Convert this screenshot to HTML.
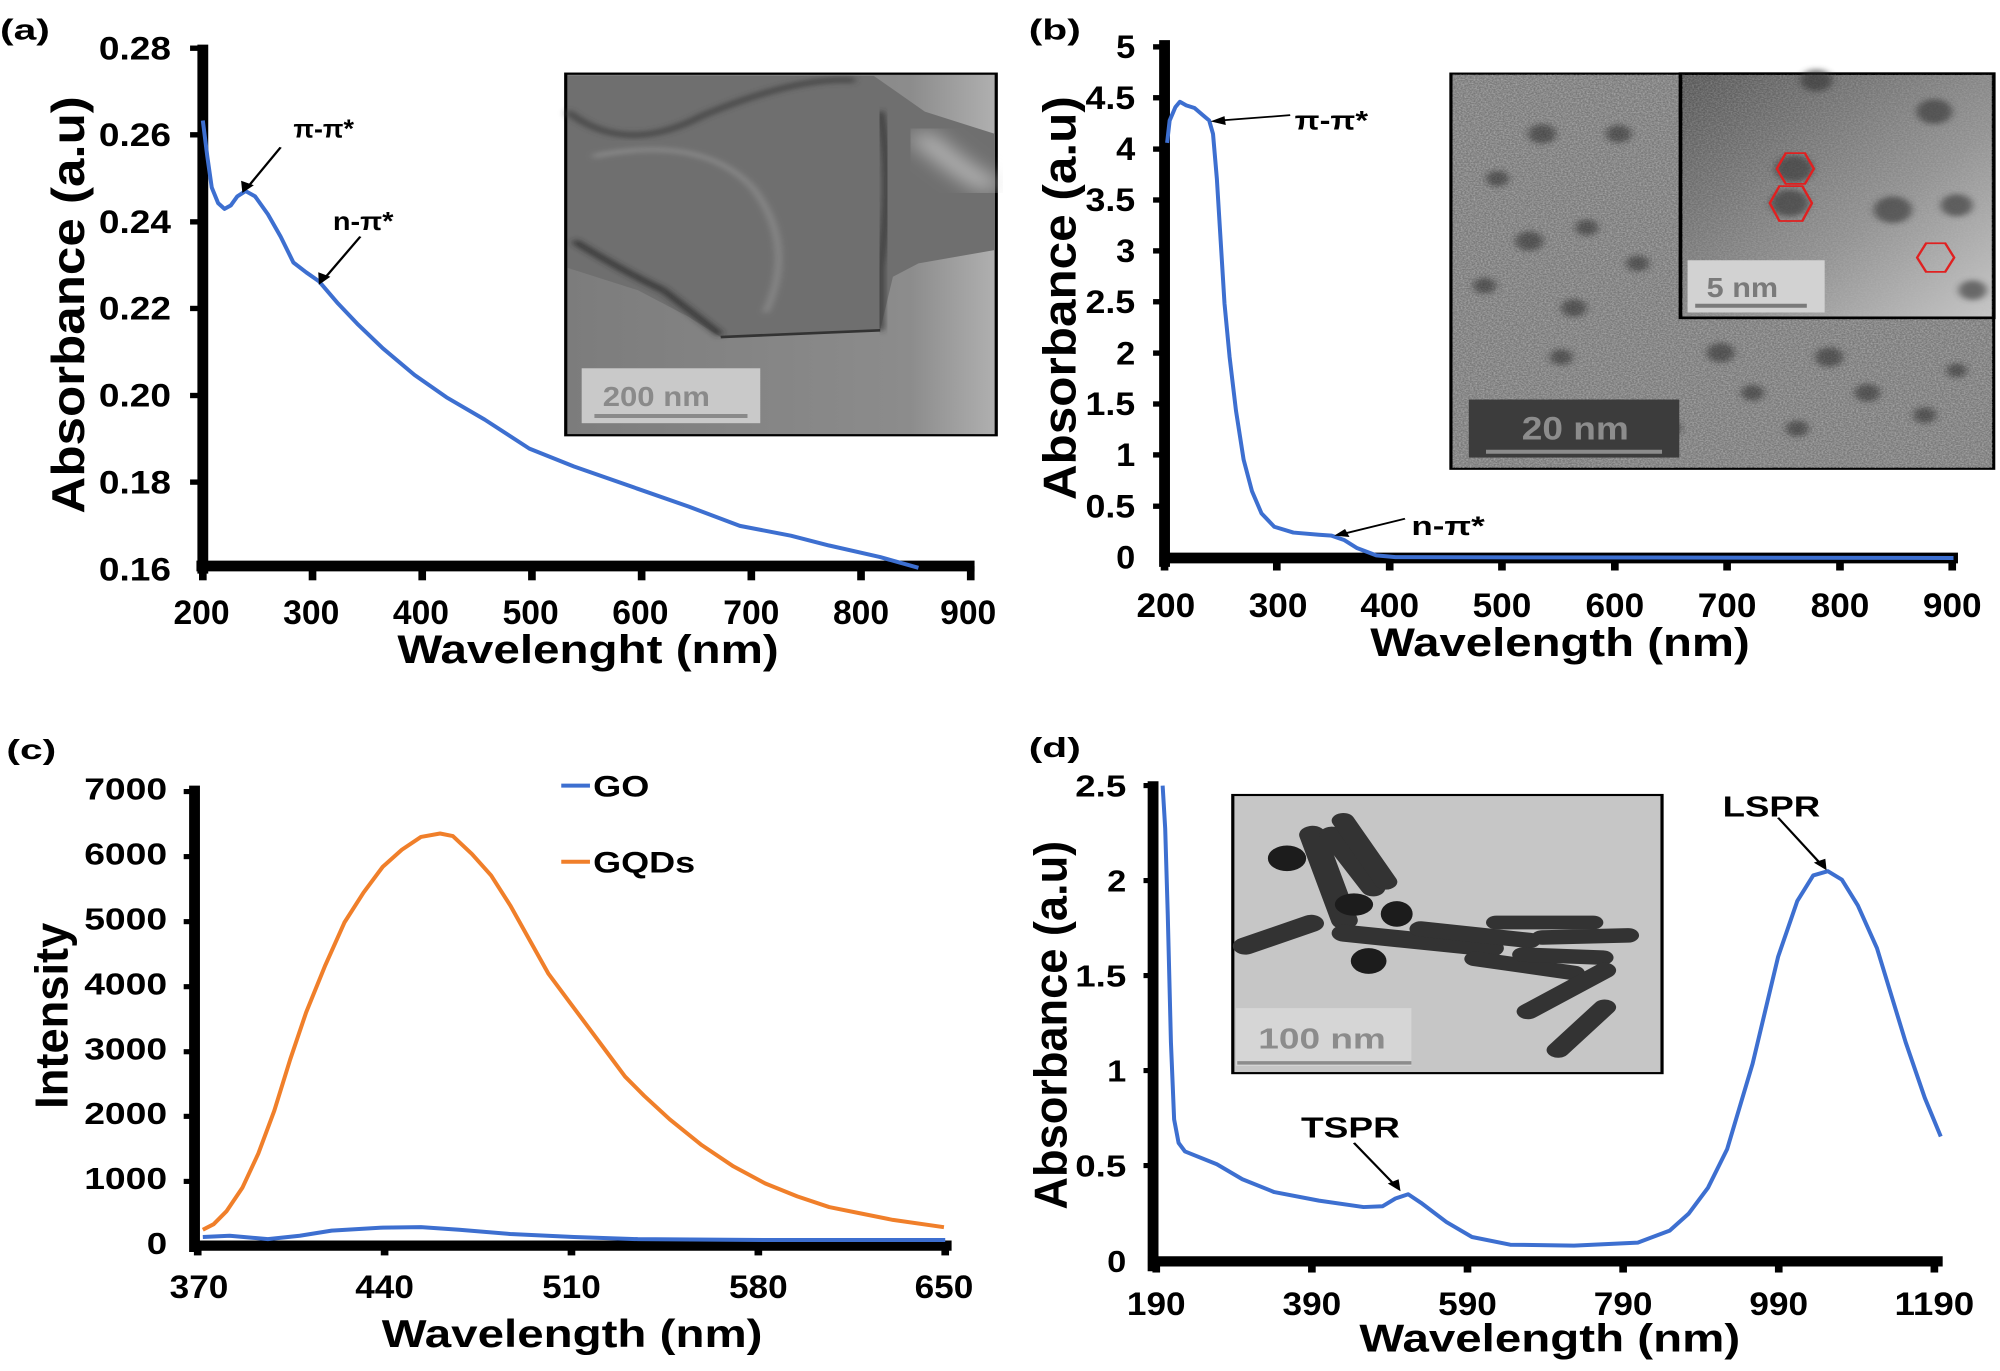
<!DOCTYPE html>
<html><head><meta charset="utf-8"><style>
html,body{margin:0;padding:0;background:#fff;overflow:hidden;}
svg{display:block;}
text{font-family:"Liberation Sans",Arial,sans-serif;font-weight:bold;fill:#000;}
.c{vector-effect:non-scaling-stroke;}
</style></head><body>
<svg width="2000" height="1371" viewBox="0 0 2000 1371" xmlns="http://www.w3.org/2000/svg">
<defs>
<filter id="noise" x="0" y="0" width="100%" height="100%">
<feTurbulence type="fractalNoise" baseFrequency="0.35" numOctaves="2" seed="3"/>
<feColorMatrix type="matrix" values="0 0 0 0 0.5  0 0 0 0 0.5  0 0 0 0 0.5  0 0 0 1.6 -0.5"/>
</filter>
<filter id="blur6"><feGaussianBlur stdDeviation="6"/></filter>
<filter id="blur20"><feGaussianBlur stdDeviation="20"/></filter>
<linearGradient id="ga" x1="0" y1="0" x2="1" y2="0">
<stop offset="0" stop-color="#7c7c7c"/><stop offset="0.8" stop-color="#8c8c8c"/><stop offset="1" stop-color="#b0b0b0"/></linearGradient>
<linearGradient id="gb2" x1="0" y1="0" x2="1" y2="1">
<stop offset="0" stop-color="#555"/><stop offset="0.6" stop-color="#909090"/><stop offset="1" stop-color="#c8c8c8"/></linearGradient>
</defs>

<!-- ================= PANEL A ================= -->
<g transform="scale(0.6378,0.4464)">
<text x="0" y="88" font-size="64">(a)</text>
<rect x="887" y="165" width="675" height="810" fill="url(#ga)" stroke="#000" stroke-width="5"/>
<path d="M890,170 L1370,170 L1450,250 L1560,300 L1560,560 L1440,590 L1400,620 L1380,740 L1130,755 L1080,710 L1000,650 L890,600 Z" fill="#6f6f6f"/>
<path d="M890,250 Q980,350 1100,260 Q1250,170 1340,180" fill="none" stroke="#404040" stroke-width="10" filter="url(#blur6)"/>
<path d="M900,540 Q980,610 1040,650 L1130,750" fill="none" stroke="#2a2a2a" stroke-width="10" filter="url(#blur6)"/>
<path d="M1380,250 Q1400,400 1380,600 L1380,740" fill="none" stroke="#303030" stroke-width="10" filter="url(#blur6)"/>
<path d="M1130,755 L1380,740" fill="none" stroke="#333" stroke-width="6"/>
<path d="M930,350 Q1100,300 1180,420 Q1250,550 1200,700" fill="none" stroke="#9a9a9a" stroke-width="6" filter="url(#blur6)"/>
<path d="M1440,300 Q1520,400 1560,420" fill="none" stroke="#d8d8d8" stroke-width="25" filter="url(#blur20)"/>
<rect x="912" y="825" width="280" height="123" fill="#c9c9c9"/>
<text x="945" y="910" font-size="62" style="fill:#8a8a8a" textLength="168" lengthAdjust="spacingAndGlyphs">200 nm</text>
<line x1="932" y1="932" x2="1172" y2="932" stroke="#8a8a8a" stroke-width="9"/>
<line x1="318" y1="100" x2="318" y2="1285" stroke="#000" stroke-width="17"/>
<line x1="308" y1="1268" x2="1528" y2="1268" stroke="#000" stroke-width="24"/>
<g stroke="#000" stroke-width="12">
<line x1="318" y1="1268" x2="318" y2="1300"/><line x1="490" y1="1268" x2="490" y2="1300"/><line x1="662" y1="1268" x2="662" y2="1300"/><line x1="834" y1="1268" x2="834" y2="1300"/><line x1="1006" y1="1268" x2="1006" y2="1300"/><line x1="1178" y1="1268" x2="1178" y2="1300"/><line x1="1350" y1="1268" x2="1350" y2="1300"/><line x1="1522" y1="1268" x2="1522" y2="1300"/>
<line x1="298" y1="108" x2="318" y2="108"/><line x1="298" y1="302" x2="318" y2="302"/><line x1="298" y1="497" x2="318" y2="497"/><line x1="298" y1="691" x2="318" y2="691"/><line x1="298" y1="886" x2="318" y2="886"/><line x1="298" y1="1080" x2="318" y2="1080"/>
</g>
<g font-size="72" text-anchor="end">
<text x="268" y="133" textLength="113" lengthAdjust="spacingAndGlyphs">0.28</text>
<text x="268" y="327" textLength="113" lengthAdjust="spacingAndGlyphs">0.26</text>
<text x="268" y="522" textLength="113" lengthAdjust="spacingAndGlyphs">0.24</text>
<text x="268" y="716" textLength="113" lengthAdjust="spacingAndGlyphs">0.22</text>
<text x="268" y="911" textLength="113" lengthAdjust="spacingAndGlyphs">0.20</text>
<text x="268" y="1105" textLength="113" lengthAdjust="spacingAndGlyphs">0.18</text>
<text x="268" y="1300" textLength="113" lengthAdjust="spacingAndGlyphs">0.16</text>
</g>
<g font-size="76" text-anchor="middle">
<text x="316" y="1398" textLength="88" lengthAdjust="spacingAndGlyphs">200</text>
<text x="488" y="1398" textLength="88" lengthAdjust="spacingAndGlyphs">300</text>
<text x="660" y="1398" textLength="88" lengthAdjust="spacingAndGlyphs">400</text>
<text x="832" y="1398" textLength="88" lengthAdjust="spacingAndGlyphs">500</text>
<text x="1004" y="1398" textLength="88" lengthAdjust="spacingAndGlyphs">600</text>
<text x="1178" y="1398" textLength="88" lengthAdjust="spacingAndGlyphs">700</text>
<text x="1350" y="1398" textLength="88" lengthAdjust="spacingAndGlyphs">800</text>
<text x="1518" y="1398" textLength="88" lengthAdjust="spacingAndGlyphs">900</text>
</g>
<text x="922" y="1485" font-size="90" text-anchor="middle" textLength="598" lengthAdjust="spacingAndGlyphs">Wavelenght (nm)</text>
<text transform="translate(132,683) rotate(-90)" font-size="72" text-anchor="middle" textLength="935" lengthAdjust="spacingAndGlyphs">Absorbance (a.u)</text>
<polyline class="c" fill="none" stroke="#3d6fd0" stroke-width="4" stroke-linejoin="round" points="318,270 325,350 332,420 342,455 352,468 362,460 372,440 385,428 400,440 420,480 440,530 460,588 480,610 500,630 530,680 560,725 600,780 650,840 700,890 760,940 830,1005 900,1045 1000,1095 1080,1135 1160,1178 1240,1200 1300,1222 1380,1248 1440,1272"/>
<text x="460" y="308" font-size="58" textLength="95" lengthAdjust="spacingAndGlyphs">π-π*</text>
<line x1="440" y1="330" x2="385" y2="425" stroke="#000" stroke-width="4"/>
<polygon points="380,432 378,405 398,415" fill="#000"/>
<text x="522" y="515" font-size="58" textLength="95" lengthAdjust="spacingAndGlyphs">n-π*</text>
<line x1="565" y1="530" x2="505" y2="630" stroke="#000" stroke-width="4"/>
<polygon points="500,638 499,610 518,620" fill="#000"/>
</g>

<!-- ================= PANEL B ================= -->
<g transform="translate(1000,0) scale(0.6378,0.4464)">
<text x="45" y="88" font-size="64">(b)</text>
<rect x="707" y="165" width="851" height="885" fill="#7a7a7a" stroke="#000" stroke-width="5"/>
<rect x="710" y="168" width="846" height="880" filter="url(#noise)" opacity="0.8"/>
<g fill="#2a2a2a" opacity="0.55" filter="url(#blur6)">
<circle cx="850" cy="300" r="22"/><circle cx="970" cy="300" r="20"/><circle cx="830" cy="540" r="22"/><circle cx="920" cy="510" r="18"/><circle cx="760" cy="640" r="18"/><circle cx="900" cy="690" r="20"/><circle cx="1000" cy="590" r="18"/><circle cx="880" cy="800" r="18"/><circle cx="780" cy="400" r="18"/><circle cx="1130" cy="790" r="22"/><circle cx="1300" cy="800" r="22"/><circle cx="1360" cy="880" r="20"/><circle cx="1180" cy="880" r="18"/><circle cx="1450" cy="930" r="18"/><circle cx="1050" cy="960" r="18"/><circle cx="1500" cy="830" r="16"/><circle cx="1250" cy="960" r="18"/>
</g>
<rect x="1067" y="165" width="491" height="547" fill="url(#gb2)" stroke="#000" stroke-width="6"/>
<rect x="1070" y="168" width="486" height="541" filter="url(#noise)" opacity="0.45"/>
<g fill="#303030" opacity="0.6" filter="url(#blur6)">
<circle cx="1245" cy="378" r="30"/><circle cx="1238" cy="455" r="30"/><circle cx="1465" cy="250" r="28"/><circle cx="1400" cy="470" r="30"/><circle cx="1500" cy="460" r="25"/><circle cx="1525" cy="650" r="22"/><circle cx="1280" cy="180" r="25"/>
</g>
<g fill="none" stroke="#e02020" stroke-width="4">
<polygon points="1218,378 1232,343 1262,343 1276,378 1262,412 1232,412"/>
<polygon points="1207,455 1222,417 1258,417 1273,455 1258,495 1222,495"/>
<polygon points="1438,577 1452,545 1482,545 1496,577 1482,609 1452,609"/>
</g>
<rect x="1078" y="583" width="215" height="117" fill="#d2d2d2"/>
<text x="1108" y="665" font-size="62" style="fill:#7a7a7a" textLength="112" lengthAdjust="spacingAndGlyphs">5 nm</text>
<line x1="1090" y1="685" x2="1265" y2="685" stroke="#7a7a7a" stroke-width="9"/>
<rect x="735" y="895" width="330" height="130" fill="#3c3c3c"/>
<text x="818" y="985" font-size="72" style="fill:#8c8c8c" textLength="168" lengthAdjust="spacingAndGlyphs">20 nm</text>
<line x1="762" y1="1012" x2="1038" y2="1012" stroke="#8c8c8c" stroke-width="9"/>
<line x1="258" y1="90" x2="258" y2="1270" stroke="#000" stroke-width="17"/>
<line x1="250" y1="1250" x2="1502" y2="1250" stroke="#000" stroke-width="24"/>
<g stroke="#000" stroke-width="12">
<line x1="258" y1="1250" x2="258" y2="1278"/><line x1="434" y1="1250" x2="434" y2="1278"/><line x1="611" y1="1250" x2="611" y2="1278"/><line x1="787" y1="1250" x2="787" y2="1278"/><line x1="964" y1="1250" x2="964" y2="1278"/><line x1="1140" y1="1250" x2="1140" y2="1278"/><line x1="1317" y1="1250" x2="1317" y2="1278"/><line x1="1493" y1="1250" x2="1493" y2="1278"/>
<line x1="240" y1="105" x2="258" y2="105"/><line x1="240" y1="219" x2="258" y2="219"/><line x1="240" y1="334" x2="258" y2="334"/><line x1="240" y1="448" x2="258" y2="448"/><line x1="240" y1="562" x2="258" y2="562"/><line x1="240" y1="676" x2="258" y2="676"/><line x1="240" y1="791" x2="258" y2="791"/><line x1="240" y1="905" x2="258" y2="905"/><line x1="240" y1="1019" x2="258" y2="1019"/><line x1="240" y1="1134" x2="258" y2="1134"/>
</g>
<g font-size="72" text-anchor="end">
<text x="212" y="130" textLength="30" lengthAdjust="spacingAndGlyphs">5</text>
<text x="212" y="244" textLength="78" lengthAdjust="spacingAndGlyphs">4.5</text>
<text x="212" y="359" textLength="30" lengthAdjust="spacingAndGlyphs">4</text>
<text x="212" y="473" textLength="78" lengthAdjust="spacingAndGlyphs">3.5</text>
<text x="212" y="587" textLength="30" lengthAdjust="spacingAndGlyphs">3</text>
<text x="212" y="701" textLength="78" lengthAdjust="spacingAndGlyphs">2.5</text>
<text x="212" y="816" textLength="30" lengthAdjust="spacingAndGlyphs">2</text>
<text x="212" y="930" textLength="78" lengthAdjust="spacingAndGlyphs">1.5</text>
<text x="212" y="1044" textLength="30" lengthAdjust="spacingAndGlyphs">1</text>
<text x="212" y="1159" textLength="78" lengthAdjust="spacingAndGlyphs">0.5</text>
<text x="212" y="1273" textLength="30" lengthAdjust="spacingAndGlyphs">0</text>
</g>
<g font-size="76" text-anchor="middle">
<text x="260" y="1382" textLength="92" lengthAdjust="spacingAndGlyphs">200</text>
<text x="436" y="1382" textLength="92" lengthAdjust="spacingAndGlyphs">300</text>
<text x="611" y="1382" textLength="92" lengthAdjust="spacingAndGlyphs">400</text>
<text x="787" y="1382" textLength="92" lengthAdjust="spacingAndGlyphs">500</text>
<text x="964" y="1382" textLength="92" lengthAdjust="spacingAndGlyphs">600</text>
<text x="1140" y="1382" textLength="92" lengthAdjust="spacingAndGlyphs">700</text>
<text x="1317" y="1382" textLength="92" lengthAdjust="spacingAndGlyphs">800</text>
<text x="1493" y="1382" textLength="92" lengthAdjust="spacingAndGlyphs">900</text>
</g>
<text x="878" y="1470" font-size="90" text-anchor="middle" textLength="595" lengthAdjust="spacingAndGlyphs">Wavelength (nm)</text>
<text transform="translate(118,668) rotate(-90)" font-size="72" text-anchor="middle" textLength="905" lengthAdjust="spacingAndGlyphs">Absorbance (a.u)</text>
<polyline class="c" fill="none" stroke="#3d6fd0" stroke-width="4" stroke-linejoin="round" points="262,320 266,270 275,240 282,228 292,236 305,242 318,258 328,270 334,300 340,400 346,540 352,680 360,800 370,920 382,1030 395,1100 410,1150 430,1180 460,1193 500,1198 520,1200 540,1210 560,1228 590,1244 620,1248 1495,1250"/>
<text x="462" y="290" font-size="60" textLength="115" lengthAdjust="spacingAndGlyphs">π-π*</text>
<line x1="455" y1="258" x2="345" y2="270" stroke="#000" stroke-width="4"/>
<polygon points="330,272 352,260 354,280" fill="#000"/>
<text x="645" y="1198" font-size="60" textLength="115" lengthAdjust="spacingAndGlyphs">n-π*</text>
<line x1="635" y1="1162" x2="538" y2="1196" stroke="#000" stroke-width="4"/>
<polygon points="524,1200 541,1185 548,1203" fill="#000"/>
</g>

<!-- ================= PANEL C ================= -->
<g transform="translate(0,700) scale(0.6378,0.4279)">
<text x="10" y="138" font-size="64">(c)</text>
<line x1="305" y1="200" x2="305" y2="1290" stroke="#000" stroke-width="17"/>
<line x1="298" y1="1275" x2="1492" y2="1275" stroke="#000" stroke-width="24"/>
<g stroke="#000" stroke-width="12">
<line x1="310" y1="1275" x2="310" y2="1298"/><line x1="603" y1="1275" x2="603" y2="1298"/><line x1="896" y1="1275" x2="896" y2="1298"/><line x1="1189" y1="1275" x2="1189" y2="1298"/><line x1="1482" y1="1275" x2="1482" y2="1298"/>
<line x1="288" y1="214" x2="305" y2="214"/><line x1="288" y1="366" x2="305" y2="366"/><line x1="288" y1="518" x2="305" y2="518"/><line x1="288" y1="670" x2="305" y2="670"/><line x1="288" y1="822" x2="305" y2="822"/><line x1="288" y1="973" x2="305" y2="973"/><line x1="288" y1="1125" x2="305" y2="1125"/>
</g>
<g font-size="72" text-anchor="end">
<text x="262" y="232" textLength="130" lengthAdjust="spacingAndGlyphs">7000</text>
<text x="262" y="384" textLength="130" lengthAdjust="spacingAndGlyphs">6000</text>
<text x="262" y="536" textLength="130" lengthAdjust="spacingAndGlyphs">5000</text>
<text x="262" y="688" textLength="130" lengthAdjust="spacingAndGlyphs">4000</text>
<text x="262" y="840" textLength="130" lengthAdjust="spacingAndGlyphs">3000</text>
<text x="262" y="991" textLength="130" lengthAdjust="spacingAndGlyphs">2000</text>
<text x="262" y="1143" textLength="130" lengthAdjust="spacingAndGlyphs">1000</text>
<text x="262" y="1295" textLength="32" lengthAdjust="spacingAndGlyphs">0</text>
</g>
<g font-size="76" text-anchor="middle">
<text x="312" y="1397" textLength="92" lengthAdjust="spacingAndGlyphs">370</text>
<text x="603" y="1397" textLength="92" lengthAdjust="spacingAndGlyphs">440</text>
<text x="896" y="1397" textLength="92" lengthAdjust="spacingAndGlyphs">510</text>
<text x="1189" y="1397" textLength="92" lengthAdjust="spacingAndGlyphs">580</text>
<text x="1480" y="1397" textLength="92" lengthAdjust="spacingAndGlyphs">650</text>
</g>
<text x="897" y="1512" font-size="90" text-anchor="middle" textLength="597" lengthAdjust="spacingAndGlyphs">Wavelength (nm)</text>
<text transform="translate(106,738) rotate(-90)" font-size="72" text-anchor="middle" textLength="435" lengthAdjust="spacingAndGlyphs">Intensity</text>
<line class="c" x1="880" y1="200" x2="925" y2="200" stroke="#3d6fd0" stroke-width="4"/>
<text x="930" y="225" font-size="70" textLength="88" lengthAdjust="spacingAndGlyphs">GO</text>
<line class="c" x1="880" y1="378" x2="925" y2="378" stroke="#f07f2a" stroke-width="4"/>
<text x="930" y="403" font-size="70" textLength="160" lengthAdjust="spacingAndGlyphs">GQDs</text>
<polyline class="c" fill="none" stroke="#f07f2a" stroke-width="4" stroke-linejoin="round" points="318,1238 335,1225 355,1195 380,1140 405,1060 430,960 455,840 480,730 510,620 540,520 570,450 600,390 630,350 660,320 690,312 710,318 740,360 770,410 800,480 830,560 860,640 890,700 920,760 950,820 980,880 1010,925 1050,980 1100,1040 1150,1090 1200,1130 1250,1160 1300,1185 1350,1200 1400,1215 1480,1232"/>
<polyline class="c" fill="none" stroke="#3d6fd0" stroke-width="4" stroke-linejoin="round" points="318,1255 360,1252 420,1260 470,1252 520,1240 600,1233 660,1232 720,1238 800,1248 900,1255 1000,1260 1200,1262 1482,1262"/>
</g>

<!-- ================= PANEL D ================= -->
<g transform="translate(1000,700) scale(0.6378,0.4279)">
<text x="45" y="133" font-size="64">(d)</text>
<rect x="365" y="222" width="673" height="650" fill="#c6c6c6" stroke="#000" stroke-width="5"/>
<g stroke="#333" stroke-linecap="round" fill="none">
<line x1="385" y1="575" x2="488" y2="522" stroke-width="40"/>
<line x1="490" y1="315" x2="540" y2="515" stroke-width="42"/>
<line x1="520" y1="315" x2="585" y2="440" stroke-width="38"/>
<line x1="538" y1="282" x2="605" y2="425" stroke-width="36"/>
<line x1="540" y1="545" x2="770" y2="580" stroke-width="40"/>
<line x1="660" y1="535" x2="830" y2="562" stroke-width="36"/>
<line x1="778" y1="520" x2="930" y2="520" stroke-width="32"/>
<line x1="850" y1="555" x2="985" y2="550" stroke-width="34"/>
<line x1="745" y1="605" x2="900" y2="638" stroke-width="34"/>
<line x1="820" y1="595" x2="945" y2="602" stroke-width="34"/>
<line x1="828" y1="728" x2="948" y2="632" stroke-width="36"/>
<line x1="875" y1="818" x2="948" y2="718" stroke-width="36"/>
</g>
<g fill="#1c1c1c">
<circle cx="450" cy="370" r="30"/><ellipse cx="555" cy="478" rx="30" ry="26"/><ellipse cx="622" cy="500" rx="25" ry="30"/><ellipse cx="578" cy="610" rx="28" ry="30"/>
</g>
<rect x="370" y="720" width="275" height="135" fill="#d6d6d6"/>
<text x="405" y="815" font-size="68" style="fill:#8c8c8c" textLength="200" lengthAdjust="spacingAndGlyphs">100 nm</text>
<line x1="372" y1="848" x2="645" y2="848" stroke="#8c8c8c" stroke-width="8"/>
<line x1="240" y1="190" x2="240" y2="1335" stroke="#000" stroke-width="17"/>
<line x1="232" y1="1312" x2="1478" y2="1312" stroke="#000" stroke-width="24"/>
<g stroke="#000" stroke-width="12">
<line x1="245" y1="1312" x2="245" y2="1338"/><line x1="489" y1="1312" x2="489" y2="1338"/><line x1="733" y1="1312" x2="733" y2="1338"/><line x1="977" y1="1312" x2="977" y2="1338"/><line x1="1221" y1="1312" x2="1221" y2="1338"/><line x1="1465" y1="1312" x2="1465" y2="1338"/>
<line x1="225" y1="200" x2="240" y2="200"/><line x1="225" y1="422" x2="240" y2="422"/><line x1="225" y1="644" x2="240" y2="644"/><line x1="225" y1="866" x2="240" y2="866"/><line x1="225" y1="1088" x2="240" y2="1088"/>
</g>
<g font-size="72" text-anchor="end">
<text x="198" y="225" textLength="80" lengthAdjust="spacingAndGlyphs">2.5</text>
<text x="198" y="447" textLength="30" lengthAdjust="spacingAndGlyphs">2</text>
<text x="198" y="669" textLength="80" lengthAdjust="spacingAndGlyphs">1.5</text>
<text x="198" y="891" textLength="30" lengthAdjust="spacingAndGlyphs">1</text>
<text x="198" y="1113" textLength="80" lengthAdjust="spacingAndGlyphs">0.5</text>
<text x="198" y="1337" textLength="30" lengthAdjust="spacingAndGlyphs">0</text>
</g>
<g font-size="76" text-anchor="middle">
<text x="245" y="1437" textLength="92" lengthAdjust="spacingAndGlyphs">190</text>
<text x="489" y="1437" textLength="92" lengthAdjust="spacingAndGlyphs">390</text>
<text x="733" y="1437" textLength="92" lengthAdjust="spacingAndGlyphs">590</text>
<text x="977" y="1437" textLength="92" lengthAdjust="spacingAndGlyphs">790</text>
<text x="1221" y="1437" textLength="92" lengthAdjust="spacingAndGlyphs">990</text>
<text x="1465" y="1437" textLength="125" lengthAdjust="spacingAndGlyphs">1190</text>
</g>
<text x="862" y="1522" font-size="90" text-anchor="middle" textLength="597" lengthAdjust="spacingAndGlyphs">Wavelength (nm)</text>
<text transform="translate(104,760) rotate(-90)" font-size="72" text-anchor="middle" textLength="862" lengthAdjust="spacingAndGlyphs">Absorbance (a.u)</text>
<polyline class="c" fill="none" stroke="#3d6fd0" stroke-width="4" stroke-linejoin="round" points="255,200 259,300 263,500 268,800 273,980 280,1035 290,1055 340,1085 380,1120 430,1150 500,1170 570,1185 600,1183 620,1165 640,1155 660,1175 700,1220 740,1255 800,1273 900,1275 1000,1268 1050,1240 1080,1200 1110,1140 1140,1050 1180,850 1220,600 1250,470 1275,410 1298,400 1320,420 1345,480 1375,580 1420,800 1450,930 1475,1020"/>
<text x="472" y="1022" font-size="66" textLength="155" lengthAdjust="spacingAndGlyphs">TSPR</text>
<line x1="555" y1="1035" x2="620" y2="1135" stroke="#000" stroke-width="4"/>
<polygon points="628,1148 608,1130 625,1120" fill="#000"/>
<text x="1133" y="272" font-size="66" textLength="153" lengthAdjust="spacingAndGlyphs">LSPR</text>
<line x1="1220" y1="275" x2="1288" y2="385" stroke="#000" stroke-width="4"/>
<polygon points="1296,398 1276,380 1294,371" fill="#000"/>
</g>
</svg>
</body></html>
